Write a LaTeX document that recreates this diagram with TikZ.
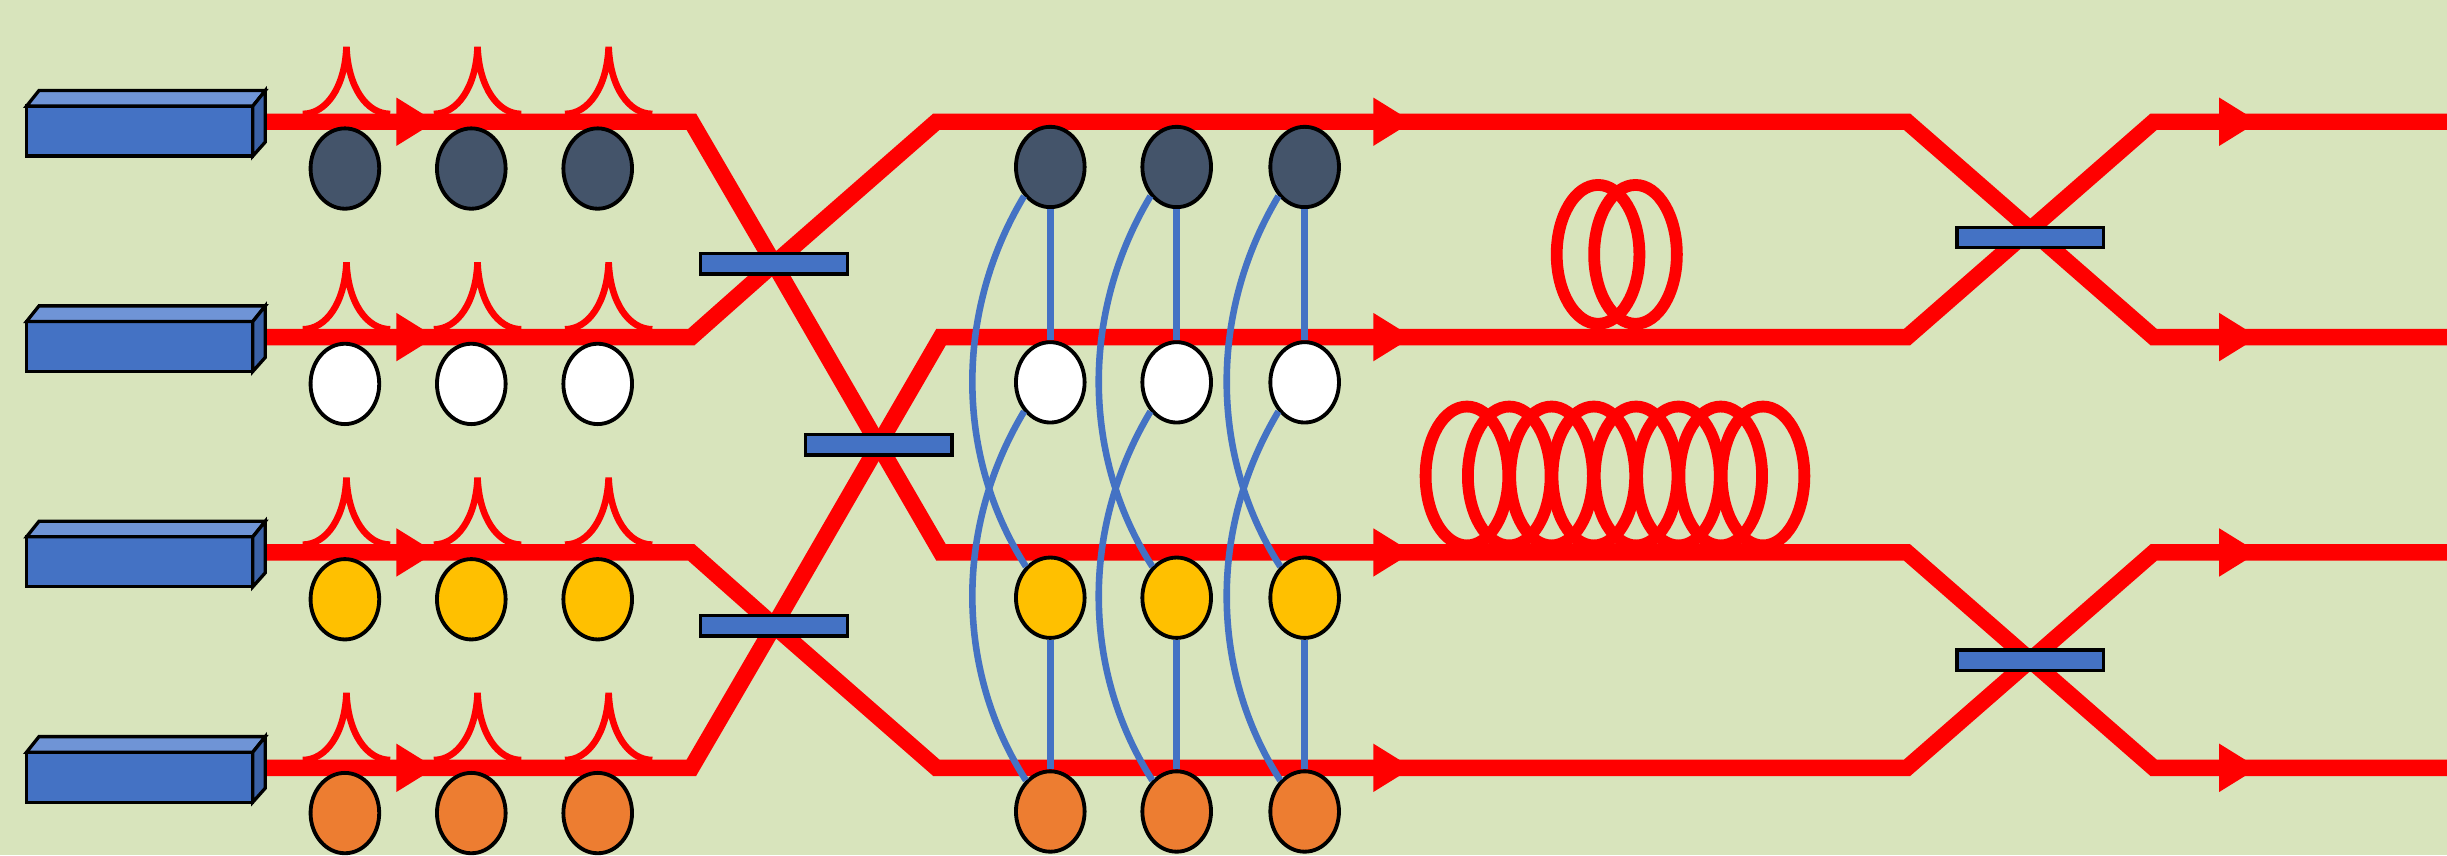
\documentclass[tikz,border=0pt]{standalone}
\usetikzlibrary{shapes.geometric}
\definecolor{bgolive}{HTML}{D8E4BC}
\definecolor{cblue}{HTML}{4472C4}
\definecolor{ctop}{HTML}{6F94D6}
\definecolor{cside}{HTML}{3B62A8}
\definecolor{cdark}{HTML}{44546A}
\definecolor{cgold}{HTML}{FFC000}
\definecolor{corange}{HTML}{ED7D31}

\begin{document}
\begin{tikzpicture}[x=0.02cm,y=-0.02cm,
    guide/.style={red,line width=6pt},
    pulse/.style={red,line width=2.4pt},
    coil/.style={red,line width=4.3pt},
    link/.style={cblue,line width=2.4pt},
    dot/.style={ellipse,draw=black,line width=1.4pt,minimum width=0.88cm,minimum height=1.03cm,inner sep=0pt},
    bs/.style={rectangle,draw=black,fill=cblue,line width=1.2pt,minimum width=1.88cm,minimum height=0.26cm,inner sep=0pt}]
    \useasboundingbox (0,0) rectangle (1568,548);
    \fill[bgolive] (0,0) rectangle (1568,548);

    % crossing points of the couplers
    \coordinate (xA) at (496,169);
    \coordinate (xB) at (563,285);
    \coordinate (xC) at (496,401);
    \coordinate (xD) at (1301,147);
    \coordinate (xE) at (1301,423);

    % waveguides
    \draw[guide] (170,78) -- (443,78) -- (xA) -- (xB) -- (603,354) -- (1222,354) -- (xE) -- (1380,492) -- (1568,492);
    \draw[guide] (170,216) -- (443,216) -- (xA) -- (600,78) -- (1222,78) -- (xD) -- (1380,216) -- (1568,216);
    \draw[guide] (170,354) -- (443,354) -- (xC) -- (600,492) -- (1222,492) -- (xE) -- (1380,354) -- (1568,354);
    \draw[guide] (170,492) -- (443,492) -- (xC) -- (xB) -- (603,216) -- (1222,216) -- (xD) -- (1380,78) -- (1568,78);

    % delay coils
    \draw[coil] (1024,163) ellipse[x radius=26.5,y radius=44.5];
    \draw[coil] (1048,163) ellipse[x radius=26.5,y radius=44.5];
    \foreach \i in {0,...,7}
        \draw[coil] (940+27.1*\i,305) ellipse[x radius=26.5,y radius=44.5];

    \foreach \y in {78,216,354,492} {
        % pulses
        \foreach \x in {222,306,390}
            \draw[pulse] (\x-28,\y-5) .. controls (\x-13,\y-5) and (\x-1,\y-22) .. (\x,\y-48)
                .. controls (\x+1,\y-22) and (\x+13,\y-5) .. (\x+28,\y-5);
        % direction marks
        \foreach \x in {254,880,1422}
            \fill[red] (\x,\y-15.5) -- (\x+25,\y) -- (\x,\y+15.5) -- cycle;
        % lasers
        \filldraw[fill=cblue,line width=1.2pt] (17,\y-10) rectangle (162,\y+22);
        \filldraw[fill=ctop,line width=1.2pt] (17,\y-10) -- (25,\y-20) -- (170,\y-20) -- (162,\y-10) -- cycle;
        \filldraw[fill=cside,line width=1.2pt] (162,\y-10) -- (170,\y-20) -- (170,\y+13) -- (162,\y+22) -- cycle;
    }

    % couplers
    \node[bs] (bsA) at (xA) {};
    \node[bs] (bsB) at (xB) {};
    \node[bs] (bsC) at (xC) {};
    \node[bs] (bsD) at ([yshift=-3pt]xD) {};
    \node[bs] (bsE) at (xE) {};

    % photons
    \foreach \r/\y/\c in {1/108/cdark,2/246/white,3/384/cgold,4/521/corange} {
        \foreach \k/\x in {a/221,b/302,c/383}
            \node[dot,fill=\c] (in\r\k) at (\x,\y) {};
        \foreach \k/\x in {a/673,b/754,c/836}
            \node[dot,fill=\c] (out\r\k) at (\x,\y-1) {};
    }

    % entanglement links
    \foreach \k in {a,b,c} {
        \draw[link] (out1\k) -- (out2\k);
        \draw[link] (out3\k) -- (out4\k);
        \draw[link] (out1\k.228) .. controls +(-45,75) and +(-45,-70) .. (out3\k.128);
        \draw[link] (out2\k.228) .. controls +(-45,75) and +(-45,-70) .. (out4\k.128);
    }
\end{tikzpicture}
\end{document}
